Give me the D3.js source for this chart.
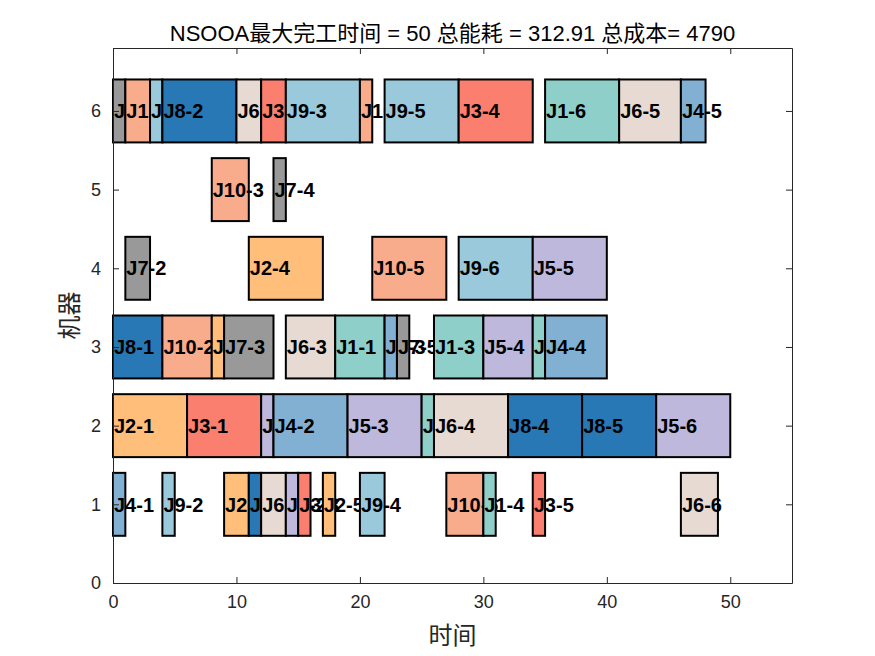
<!DOCTYPE html>
<html>
<head>
<meta charset="utf-8">
<script src="https://cdn.jsdelivr.net/npm/d3@7.9.0/dist/d3.min.js"></script>
<style>
  body { margin: 0; background: #fff; }
  svg { display: block; }
</style>
</head>
<body>
<svg id="chart" width="875" height="656"></svg>
<script>
// one entry per operation: job number, operation number, machine, start, end
const jobs     = [1,1,1,1,1,1, 2,2,2,2,2, 3,3,3,3,3, 4,4,4,4,4, 5,5,5,5,5,5, 6,6,6,6,6,6, 7,7,7,7,7, 8,8,8,8,8, 9,9,9,9,9,9, 10,10,10,10,10,10];
const opNums   = [1,2,3,4,5,6, 1,2,3,4,5, 1,2,3,4,5, 1,2,3,4,5, 1,2,3,4,5,6, 1,2,3,4,5,6, 1,2,3,4,5, 1,2,3,4,5, 1,2,3,4,5,6, 1,2,3,4,5,6];
const machines = [3,2,3,1,3,6, 2,3,1,4,1, 2,6,1,6,1, 1,2,3,3,6, 2,1,2,3,4,2, 6,1,3,2,6,1, 6,4,3,5,3, 3,6,1,2,2, 6,1,6,1,6,4, 6,3,5,6,4,1];
const starts   = [18,25,26,30,34,35, 0,8,9,11,17, 6,12,15,28,34, 0,13,22,35,46, 12,14,19,30,34,44, 10,12,14,26,41,46, 0,1,9,13,23, 0,4,11,32,38, 3,4,14,20,22,28, 1,4,8,20,21,27];
const ends     = [22,26,30,31,35,41, 6,9,11,17,18, 12,14,16,34,35, 1,19,23,40,48, 13,15,25,34,40,50, 12,14,18,32,46,49, 1,3,13,14,24, 4,10,12,38,44, 4,5,20,22,28,34, 3,8,11,21,27,30];

const jobColors = ['#8ECFC9', '#FFBE7A', '#FA7F6F', '#82B0D2', '#BEB8DC',
                   '#E7DAD2', '#999999', '#2878B5', '#9AC9DB', '#F8AC8C'];

const xTicks = [0, 10, 20, 30, 40, 50];
const yTicks = [0, 1, 2, 3, 4, 5, 6];

const titleText = 'NSOOA最大完工时间 = 50 总能耗 = 312.91 总成本= 4790';
const xLabel = '时间';
const yLabel = '机器';

const svg = d3.select('#chart');
const plotLeft = 113, plotRight = 792, plotTop = 48, plotBottom = 583;

const x = d3.scaleLinear().domain([0, 55]).range([plotLeft, plotRight]);
const y = d3.scaleLinear().domain([0, 6.8]).range([plotBottom, plotTop]);

const ops = jobs.map((j, i) => ({
    job: j, op: opNums[i], machine: machines[i], start: starts[i], end: ends[i], idx: i
}));
// later operations are drawn over earlier labels
ops.sort((a, b) => a.start - b.start || a.idx - b.idx);

const barH = y(0) - y(0.8);
const marks = svg.append('g');
ops.forEach(d => {
    marks.append('rect')
        .attr('x', x(d.start))
        .attr('y', y(d.machine + 0.4))
        .attr('width', x(d.end) - x(d.start))
        .attr('height', barH)
        .attr('fill', jobColors[d.job - 1])
        .attr('stroke', '#000')
        .attr('stroke-width', 2);
    marks.append('text')
        .attr('x', x(d.start) + 1)
        .attr('y', y(d.machine))
        .attr('dy', '0.36em')
        .attr('font-family', 'Liberation Sans, Arial, sans-serif')
        .attr('font-weight', 'bold')
        .attr('font-size', 20)
        .attr('fill', '#000')
        .text(`J${d.job}-${d.op}`);
});

// axes box with inward ticks
const axisColor = '#262626';
const tickFont = 'Liberation Sans, Arial, sans-serif';

svg.append('g')
    .attr('transform', `translate(0,${plotBottom})`)
    .call(d3.axisBottom(x).tickValues(xTicks).tickFormat(d3.format('d')).tickSizeInner(-6).tickSizeOuter(0).tickPadding(12))
    .call(g => g.selectAll('text').attr('font-size', 18).attr('font-family', tickFont).attr('fill', axisColor));
svg.append('g')
    .attr('transform', `translate(0,${plotTop})`)
    .call(d3.axisTop(x).tickValues(xTicks).tickSizeInner(-6).tickSizeOuter(0).tickFormat(''));
svg.append('g')
    .attr('transform', `translate(${plotLeft},0)`)
    .call(d3.axisLeft(y).tickValues(yTicks).tickFormat(d3.format('d')).tickSizeInner(-6).tickSizeOuter(0).tickPadding(12))
    .call(g => g.selectAll('text').attr('font-size', 18).attr('font-family', tickFont).attr('fill', axisColor));
svg.append('g')
    .attr('transform', `translate(${plotRight},0)`)
    .call(d3.axisRight(y).tickValues(yTicks).tickSizeInner(-6).tickSizeOuter(0).tickFormat(''));

svg.selectAll('.domain, .tick line').attr('stroke', axisColor);

svg.append('text')
    .attr('x', (plotLeft + plotRight) / 2)
    .attr('y', 41)
    .attr('text-anchor', 'middle')
    .attr('font-family', 'Liberation Sans, Noto Sans CJK SC, sans-serif')
    .attr('font-size', 22)
    .attr('fill', '#000')
    .text(titleText);

svg.append('text')
    .attr('x', (plotLeft + plotRight) / 2)
    .attr('y', 644)
    .attr('text-anchor', 'middle')
    .attr('font-family', 'Noto Sans CJK SC, sans-serif')
    .attr('font-size', 24)
    .attr('fill', axisColor)
    .text(xLabel);

svg.append('text')
    .attr('transform', `translate(78,${(plotTop + plotBottom) / 2}) rotate(-90)`)
    .attr('text-anchor', 'middle')
    .attr('font-family', 'Noto Sans CJK SC, sans-serif')
    .attr('font-size', 24)
    .attr('fill', axisColor)
    .text(yLabel);
</script>
</body>
</html>
